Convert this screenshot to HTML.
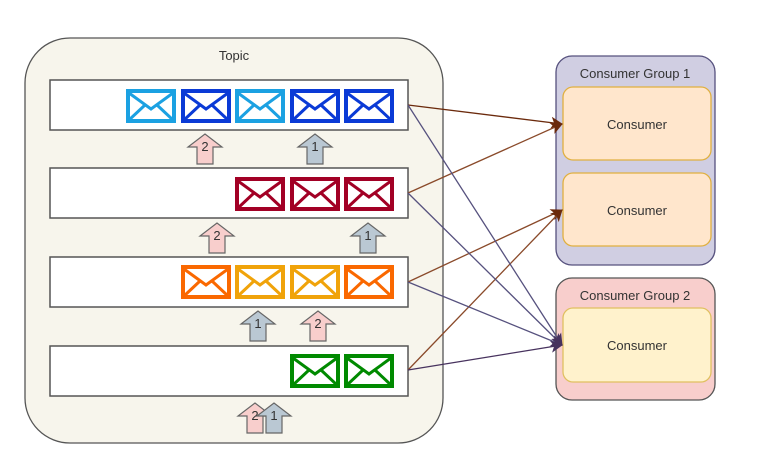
<!DOCTYPE html>
<html><head><meta charset="utf-8"><style>
html,body{margin:0;padding:0;background:#fff;}
svg{display:block;font-family:"Liberation Sans",sans-serif;}
</style></head><body>
<svg width="767" height="460" viewBox="0 0 767 460" xmlns="http://www.w3.org/2000/svg">
<defs>
<g id="env">
<rect x="1" y="1" width="46" height="30" fill="#fff" stroke="currentColor" stroke-width="4"/>
<path d="M2 3 L24 19 L46 3 M2 30 L18 15 M46 30 L30 15" fill="none" stroke="currentColor" stroke-width="3"/>
</g>
<g id="arr">
<path d="M-8 30 V13 H-17 L0 0 L17 13 H8 V30 Z" stroke="#666" stroke-width="1.2"/>
</g>
<marker id="mb" markerWidth="12" markerHeight="12" refX="11" refY="6" orient="auto" markerUnits="userSpaceOnUse"><path d="M0 0 L12 6 L0 12 L3 6 Z" fill="#6b2a0c"/></marker>
<marker id="mp" markerWidth="12" markerHeight="12" refX="11" refY="6" orient="auto" markerUnits="userSpaceOnUse"><path d="M0 0 L12 6 L0 12 L3 6 Z" fill="#47325e"/></marker>
</defs>
<rect x="25" y="38" width="418" height="405" rx="45" fill="#f7f5ec" stroke="#555" stroke-width="1.3"/>
<text x="234" y="60" font-size="13" fill="#333" text-anchor="middle">Topic</text>
<g fill="#fff" stroke="#555" stroke-width="1.5">
<rect x="50" y="80" width="358" height="50"/>
<rect x="50" y="168" width="358" height="50"/>
<rect x="50" y="257" width="358" height="50"/>
<rect x="50" y="346" width="358" height="50"/>
</g>
<g>
<use href="#env" x="127" y="90" style="color:#1ba1e2"/>
<use href="#env" x="182" y="90" style="color:#0a3ad6"/>
<use href="#env" x="236" y="90" style="color:#1ba1e2"/>
<use href="#env" x="291" y="90" style="color:#0a3ad6"/>
<use href="#env" x="345" y="90" style="color:#0a3ad6"/>
<use href="#env" x="236" y="178" style="color:#a20025"/>
<use href="#env" x="291" y="178" style="color:#a20025"/>
<use href="#env" x="345" y="178" style="color:#a20025"/>
<use href="#env" x="182" y="266" style="color:#fa6800"/>
<use href="#env" x="236" y="266" style="color:#f0a30a"/>
<use href="#env" x="291" y="266" style="color:#f0a30a"/>
<use href="#env" x="345" y="266" style="color:#fa6800"/>
<use href="#env" x="291" y="355" style="color:#008a00"/>
<use href="#env" x="345" y="355" style="color:#008a00"/>
</g>
<g font-size="13" fill="#333" text-anchor="middle">
<use href="#arr" x="205" y="134" fill="#f8cecc"/><text x="205" y="151">2</text>
<use href="#arr" x="315" y="134" fill="#bac8d3"/><text x="315" y="151">1</text>
<use href="#arr" x="217" y="223" fill="#f8cecc"/><text x="217" y="240">2</text>
<use href="#arr" x="368" y="223" fill="#bac8d3"/><text x="368" y="240">1</text>
<use href="#arr" x="258" y="311" fill="#bac8d3"/><text x="258" y="328">1</text>
<use href="#arr" x="318" y="311" fill="#f8cecc"/><text x="318" y="328">2</text>
<use href="#arr" x="255" y="403" fill="#f8cecc"/><text x="255" y="420">2</text>
<use href="#arr" x="274" y="403" fill="#bac8d3"/><text x="274" y="420">1</text>
</g>
<rect x="556" y="56" width="159" height="209" rx="16" fill="#d0cee2" stroke="#56517e" stroke-width="1.3"/>
<text x="635" y="78" font-size="13" fill="#333" text-anchor="middle">Consumer Group 1</text>
<rect x="556" y="278" width="159" height="122" rx="16" fill="#f8cecc" stroke="#555" stroke-width="1.3"/>
<text x="635" y="300" font-size="13" fill="#333" text-anchor="middle">Consumer Group 2</text>
<rect x="563" y="87" width="148" height="73" rx="10" fill="#ffe6cc" stroke="#e0b040" stroke-width="1.3"/>
<text x="637" y="129" font-size="13" fill="#333" text-anchor="middle">Consumer</text>
<rect x="563" y="173" width="148" height="73" rx="10" fill="#ffe6cc" stroke="#e0b040" stroke-width="1.3"/>
<text x="637" y="215" font-size="13" fill="#333" text-anchor="middle">Consumer</text>
<rect x="563" y="308" width="148" height="74" rx="10" fill="#fff2cc" stroke="#e0c060" stroke-width="1.3"/>
<text x="637" y="350" font-size="13" fill="#333" text-anchor="middle">Consumer</text>
<g stroke-width="1.3" fill="none">
<line x1="408" y1="105" x2="562" y2="124" stroke="#6b2a0c" marker-end="url(#mb)"/>
<line x1="408" y1="193" x2="562" y2="124" stroke="#8a4a2a" marker-end="url(#mb)"/>
<line x1="408" y1="282" x2="562" y2="210" stroke="#8a4a2a" marker-end="url(#mb)"/>
<line x1="408" y1="370" x2="562" y2="210" stroke="#8a4a2a" marker-end="url(#mb)"/>
<line x1="408" y1="105" x2="562" y2="345" stroke="#56517e" marker-end="url(#mp)"/>
<line x1="408" y1="193" x2="562" y2="345" stroke="#56517e" marker-end="url(#mp)"/>
<line x1="408" y1="282" x2="562" y2="345" stroke="#56517e" marker-end="url(#mp)"/>
<line x1="408" y1="370" x2="562" y2="345" stroke="#47325e" marker-end="url(#mp)"/>
</g>
</svg>
</body></html>
